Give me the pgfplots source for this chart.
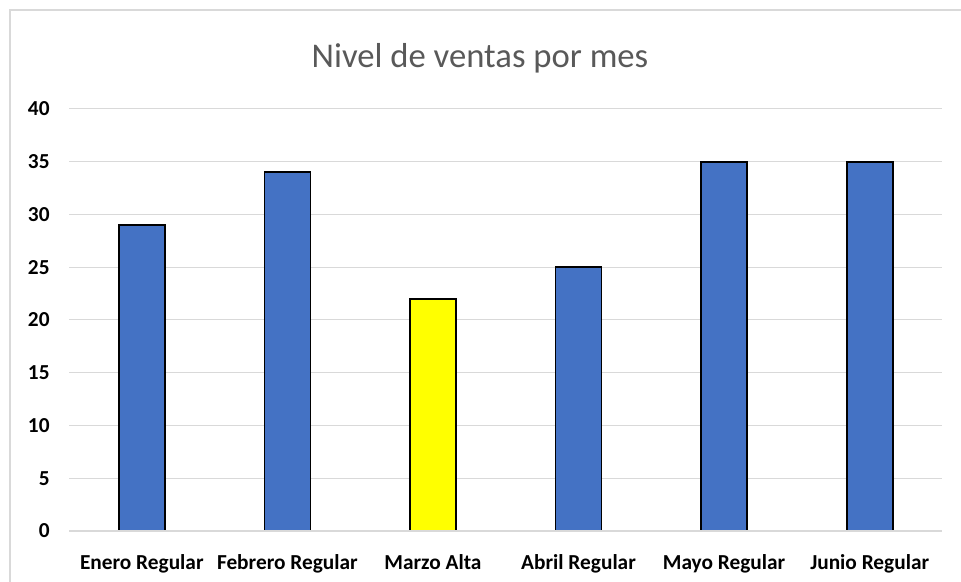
\documentclass[border=0pt]{standalone}
\usepackage{pgfplots}
\pgfplotsset{compat=1.18}
\usepackage{fontspec}
\setmainfont{Carlito}
\definecolor{barblue}{HTML}{4472C4}
\definecolor{baryellow}{HTML}{FFFF00}
\definecolor{gridgray}{HTML}{D9D9D9}
\definecolor{titlegray}{HTML}{595959}
\begin{document}
\begin{tikzpicture}
\path[use as bounding box] (0,0) rectangle (720.75pt,436.5pt);
\draw[gridgray, line width=1pt] (7.5pt,0) -- (7.5pt,429pt) -- (720.75pt,429pt);
\begin{axis}[
  at={(51.75pt,38.25pt)}, anchor=south west,
  scale only axis, width=655.1pt, height=316.5pt,
  ymin=0, ymax=40, xmin=-0.5, xmax=5.5,
  ytick={0,5,...,40},
  xtick={0,1,2,3,4,5},
  xticklabels={Enero Regular,Febrero Regular,Marzo Alta,Abril Regular,Mayo Regular,Junio Regular},
  ymajorgrids, grid style={gridgray, line width=0.75pt},
  axis line style={draw=none},
  tick style={draw=none},
  /pgf/number format/assume math mode=true,
  ticklabel style={font=\bfseries\fontsize{16}{19}\selectfont, text=black},
  yticklabel style={xshift=-11pt},
  xticklabel style={yshift=-10pt},
  ybar, bar width=34.5pt, bar shift=0pt,
  clip=false,
]
\addplot[fill=barblue, draw=black, line width=1.3pt] coordinates {(0,29) (1,34) (3,25) (4,35) (5,35)};
\addplot[fill=baryellow, draw=black, line width=1.3pt] coordinates {(2,22)};
\draw[gridgray, line width=1pt] (axis cs:-0.5,0) -- (axis cs:5.5,0);
\end{axis}
\node[text=titlegray, font=\fontsize{26}{30}\selectfont] at (360pt,393pt) {Nivel de ventas por mes};
\end{tikzpicture}
\end{document}
